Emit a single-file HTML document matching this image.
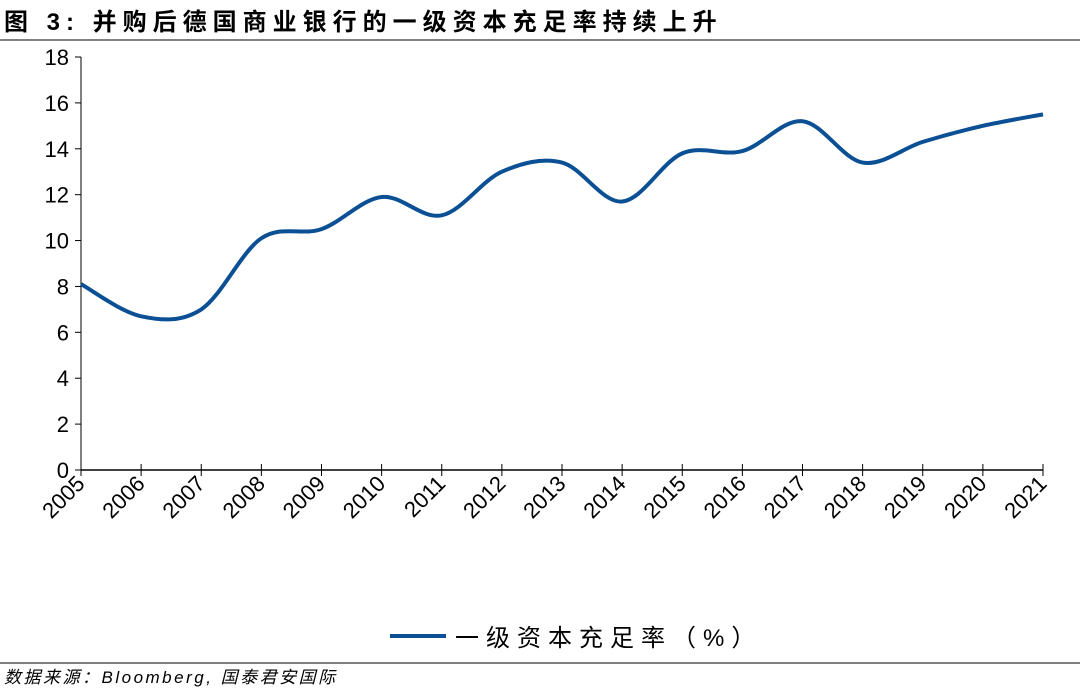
<!DOCTYPE html>
<html><head><meta charset="utf-8"><style>
body{margin:0;background:#fff;}
svg text{font-family:"Liberation Sans","Noto Sans CJK SC",sans-serif;}
</style></head><body>
<svg width="1080" height="689" viewBox="0 0 1080 689" xmlns="http://www.w3.org/2000/svg">
<text x="4" y="30" font-size="24" font-weight="bold" letter-spacing="6" fill="#000">图 3: 并购后德国商业银行的一级资本充足率持续上升</text>
<line x1="0" y1="40" x2="1080" y2="40" stroke="#000" stroke-width="1"/>
<g id="axes"></g>
<g id="series"></g>
<g>
<line x1="390" y1="636" x2="446" y2="636" stroke="#0b4f94" stroke-width="4"/>
<text x="455" y="646" font-size="24" letter-spacing="7" fill="#000">一级资本充足率（%）</text>
</g>
<line x1="0" y1="663" x2="1080" y2="663" stroke="#000" stroke-width="1"/>
<text x="4" y="683" font-size="17" font-style="italic" letter-spacing="2.5" fill="#000">数据来源：Bloomberg, 国泰君安国际</text>
</svg>
<script>
const years=["2005","2006","2007","2008","2009","2010","2011","2012","2013","2014","2015","2016","2017","2018","2019","2020","2021"];
const ratios=[8.1,6.7,7.0,10.1,10.5,11.9,11.1,13.0,13.4,11.7,13.8,13.9,15.2,13.4,14.3,15.0,15.5];
const yTicks=[0,2,4,6,8,10,12,14,16,18];
const NS="http://www.w3.org/2000/svg";
const x0=81,x1=1043,yBase=470,yTop=57,yMax=18;
const xs=i=>x0+i*(x1-x0)/(years.length-1);
const ys=v=>yBase-v*(yBase-yTop)/yMax;
const axes=document.getElementById('axes');
function mk(t,a,p){const e=document.createElementNS(NS,t);for(const k in a)e.setAttribute(k,a[k]);p.appendChild(e);return e;}
const ya=mk('line',{x1:x0,y1:yTop,x2:x0,y2:yBase,stroke:'#000','stroke-width':1},axes);


const xa=mk('line',{x1:x0,y1:yBase,x2:x1,y2:yBase,stroke:'#000','stroke-width':1.5},axes);


yTicks.forEach(v=>{
 const y=ys(v);
 const tk=mk('line',{x1:x0-6,y1:y,x2:x0,y2:y,stroke:'#000'},axes);
 
 
 const t=mk('text',{x:x0-12,y:y+8,'font-size':22,'text-anchor':'end'},axes);
 t.textContent=v;
 
 
});
years.forEach((yr,i)=>{
 const x=xs(i);
 const tk=mk('line',{x1:x,y1:yBase-6,x2:x,y2:yBase+6,stroke:'#000'},axes);
 
 
 const t=mk('text',{x:x+5,y:yBase+15,'font-size':22,'text-anchor':'end',transform:`rotate(-45 ${x+5} ${yBase+15})`},axes);
 t.textContent=yr;
 
 
});
const pts=ratios.map((v,i)=>[xs(i),ys(v)]);
let d=`M${pts[0][0]},${pts[0][1]}`;
const k=1/6;
for(let i=0;i<pts.length-1;i++){
 const p0=pts[Math.max(0,i-1)],p1=pts[i],p2=pts[i+1],p3=pts[Math.min(pts.length-1,i+2)];
 d+=` C${p1[0]+(p2[0]-p0[0])*k},${p1[1]+(p2[1]-p0[1])*k} ${p2[0]-(p3[0]-p1[0])*k},${p2[1]-(p3[1]-p1[1])*k} ${p2[0]},${p2[1]}`;
}
const line=mk('path',{d:d,fill:'none',stroke:'#0b4f94','stroke-width':4,'stroke-linejoin':'round'},document.getElementById('series'));


</script>
</body></html>
